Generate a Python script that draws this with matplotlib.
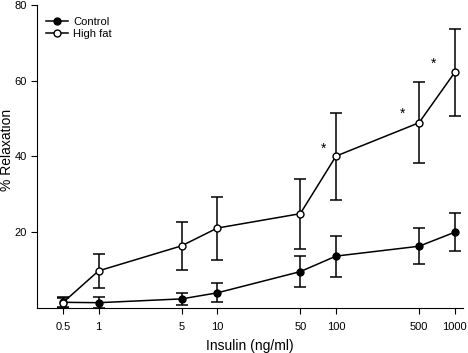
import numpy as np
from matplotlib import pyplot as plt
from matplotlib.lines import Line2D

plt.rcParams['font.family'] = ['Liberation Sans', 'DejaVu Sans']

# insulin doses (ng/ml)
doses = [0.5, 1, 5, 10, 50, 100, 500, 1000]
tick_labels = ["0.5", "1", "5", "10", "50", "100", "500", "1000"]

# % relaxation, mean and error
control = [1.5, 1.4, 2.4, 4.0, 9.6, 13.7, 16.3, 20.0]
control_err = [1.2, 1.5, 1.5, 2.5, 4.0, 5.4, 4.8, 5.0]
high_fat = [1.4, 9.8, 16.4, 21.1, 24.9, 40.1, 48.9, 62.2]
high_fat_err = [1.4, 4.5, 6.3, 8.3, 9.2, 11.5, 10.7, 11.4]

# significance markers
star_x = [78, 360, 667]
star_y = [42, 51.4, 64.4]

fig = plt.figure(figsize=(4.68, 3.53), dpi=100)
ax = fig.add_axes([0.079, 0.1275, 0.91, 0.8585])

ax.errorbar(doses, control, yerr=control_err, color="black", lw=1.1,
            marker="o", ms=5, mfc="black", mec="black", capsize=4,
            elinewidth=1.1, capthick=1.1)
ax.errorbar(doses, high_fat, yerr=high_fat_err, color="black", lw=1.1,
            marker="o", ms=5, mfc="white", mec="black", capsize=4,
            elinewidth=1.1, capthick=1.1)

for sx, sy in zip(star_x, star_y):
    ax.text(sx, sy, "*", ha="center", va="center", fontsize=10)

ax.set_xscale("log")
ax.set_xlim(0.303, 1170)
ax.set_ylim(0, 80)
ax.set_xticks(doses)
ax.set_xticklabels(tick_labels)
ax.xaxis.set_minor_locator(plt.NullLocator())
ax.set_yticks([20, 40, 60, 80])

ax.spines["top"].set_visible(False)
ax.spines["right"].set_visible(False)
ax.tick_params(direction="out", length=4, labelsize=8)
ax.tick_params(axis="x", pad=6)

ax.set_xlabel("Insulin (ng/ml)", fontsize=10)
ax.xaxis.set_label_coords(0.5, -0.102)
ax.set_ylabel("% Relaxation", fontsize=10)
ax.yaxis.set_label_coords(-0.054, 0.52)

handles = [
    Line2D([], [], color="black", lw=1.1, marker="o", ms=5, mfc="black", mec="black"),
    Line2D([], [], color="black", lw=1.1, marker="o", ms=5, mfc="white", mec="black"),
]
ax.legend(handles, ["Control", "High fat"], loc="upper left", frameon=False,
          fontsize=8, handlelength=2.0, handletextpad=0.5, labelspacing=0.2,
          borderaxespad=0.0, bbox_to_anchor=(0.01, 0.975))

fig.savefig("out.png", dpi=100)
